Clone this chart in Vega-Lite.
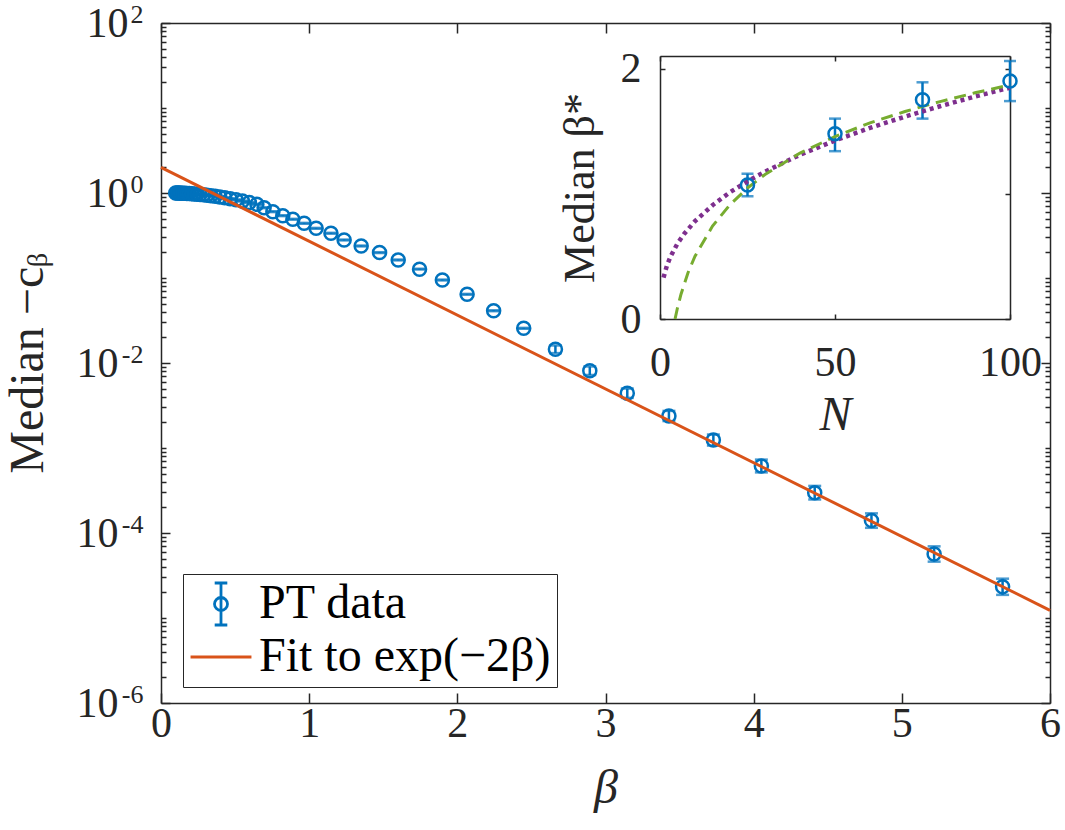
{
  "$schema": "https://vega.github.io/schema/vega-lite/v6.json",
  "width": 889,
  "height": 680,
  "autosize": {"type": "none"},
  "padding": {"left": 161, "top": 23, "right": 15, "bottom": 127},
  "background": "#ffffff",
  "config": {
    "view": {"stroke": null},
    "font": "Liberation Serif",
    "axis": {
      "grid": false,
      "domainColor": "#262626",
      "domainWidth": 1.5,
      "tickColor": "#262626",
      "tickWidth": 1.5,
      "labelFont": "Liberation Serif",
      "labelFontSize": 42,
      "labelColor": "#262626",
      "labelFlush": false,
      "labelOverlap": false,
      "labelBound": false,
      "titleFont": "Liberation Serif",
      "titleColor": "#262626",
      "titleFontWeight": "normal"
    }
  },
  "datasets": {
    "pt": [
      {"b": 0.0991, "v": 1.000, "lo": 0.9885, "hi": 1.0116},
      {"b": 0.1075, "v": 0.999, "lo": 0.9875, "hi": 1.0106},
      {"b": 0.1166, "v": 0.998, "lo": 0.9865, "hi": 1.0096},
      {"b": 0.1266, "v": 0.997, "lo": 0.9856, "hi": 1.0086},
      {"b": 0.1373, "v": 0.996, "lo": 0.9846, "hi": 1.0076},
      {"b": 0.1490, "v": 0.994, "lo": 0.9826, "hi": 1.0055},
      {"b": 0.1616, "v": 0.992, "lo": 0.9806, "hi": 1.0035},
      {"b": 0.1754, "v": 0.989, "lo": 0.9777, "hi": 1.0005},
      {"b": 0.1903, "v": 0.985, "lo": 0.9737, "hi": 0.9964},
      {"b": 0.2065, "v": 0.980, "lo": 0.9687, "hi": 0.9914},
      {"b": 0.2240, "v": 0.975, "lo": 0.9638, "hi": 0.9863},
      {"b": 0.2431, "v": 0.969, "lo": 0.9579, "hi": 0.9802},
      {"b": 0.2637, "v": 0.961, "lo": 0.9500, "hi": 0.9721},
      {"b": 0.2861, "v": 0.952, "lo": 0.9411, "hi": 0.9630},
      {"b": 0.3104, "v": 0.942, "lo": 0.9312, "hi": 0.9529},
      {"b": 0.3368, "v": 0.929, "lo": 0.9183, "hi": 0.9398},
      {"b": 0.3655, "v": 0.915, "lo": 0.9045, "hi": 0.9256},
      {"b": 0.3966, "v": 0.898, "lo": 0.8877, "hi": 0.9084},
      {"b": 0.4303, "v": 0.879, "lo": 0.8689, "hi": 0.8892},
      {"b": 0.4668, "v": 0.857, "lo": 0.8472, "hi": 0.8669},
      {"b": 0.5065, "v": 0.832, "lo": 0.8224, "hi": 0.8417},
      {"b": 0.5496, "v": 0.803, "lo": 0.7938, "hi": 0.8123},
      {"b": 0.5963, "v": 0.772, "lo": 0.7631, "hi": 0.7810},
      {"b": 0.647, "v": 0.736, "lo": 0.7276, "hi": 0.7445},
      {"b": 0.696, "v": 0.671, "lo": 0.6633, "hi": 0.6788},
      {"b": 0.755, "v": 0.603, "lo": 0.5961, "hi": 0.6100},
      {"b": 0.822, "v": 0.541, "lo": 0.5348, "hi": 0.5473},
      {"b": 0.890, "v": 0.491, "lo": 0.4854, "hi": 0.4967},
      {"b": 0.966, "v": 0.440, "lo": 0.4349, "hi": 0.4451},
      {"b": 1.047, "v": 0.384, "lo": 0.3796, "hi": 0.3885},
      {"b": 1.147, "v": 0.336, "lo": 0.3321, "hi": 0.3399},
      {"b": 1.236, "v": 0.280, "lo": 0.2768, "hi": 0.2832},
      {"b": 1.351, "v": 0.238, "lo": 0.2353, "hi": 0.2408},
      {"b": 1.475, "v": 0.199, "lo": 0.1967, "hi": 0.2013},
      {"b": 1.601, "v": 0.163, "lo": 0.1611, "hi": 0.1649},
      {"b": 1.745, "v": 0.127, "lo": 0.1255, "hi": 0.1285},
      {"b": 1.899, "v": 0.0947, "lo": 0.0936, "hi": 0.0958},
      {"b": 2.066, "v": 0.0643, "lo": 0.0636, "hi": 0.0650},
      {"b": 2.245, "v": 0.0412, "lo": 0.0407, "hi": 0.0417},
      {"b": 2.448, "v": 0.0256, "lo": 0.0253, "hi": 0.0259},
      {"b": 2.662, "v": 0.0145, "lo": 0.01307, "hi": 0.01608},
      {"b": 2.894, "v": 0.00811, "lo": 0.007228, "hi": 0.0091},
      {"b": 3.147, "v": 0.00441, "lo": 0.003885, "hi": 0.005005},
      {"b": 3.428, "v": 0.00238, "lo": 0.002073, "hi": 0.002732},
      {"b": 3.728, "v": 0.00124, "lo": 0.001068, "hi": 0.00144},
      {"b": 4.052, "v": 0.000614, "lo": 0.0005164, "hi": 0.00073},
      {"b": 4.412, "v": 0.000298, "lo": 0.0002479, "hi": 0.0003582},
      {"b": 4.795, "v": 0.00014, "lo": 0.0001151, "hi": 0.0001702},
      {"b": 5.218, "v": 0.0000566, "lo": 0.00004602, "hi": 0.00006962},
      {"b": 5.680, "v": 0.0000233, "lo": 0.00001871, "hi": 0.00002901}
    ],
    "fit": [
      {"b": 0, "v": 2.0},
      {"b": 6, "v": 0.0000123}
    ],
    "ins": [
      {"N": 25, "v": 1.07, "lo": 0.98, "hi": 1.16},
      {"N": 50, "v": 1.48, "lo": 1.34, "hi": 1.60},
      {"N": 75, "v": 1.75, "lo": 1.60, "hi": 1.89},
      {"N": 100, "v": 1.90, "lo": 1.74, "hi": 2.06}
    ],
    "pw": [
      {"N": 1, "y": 0.33}, {"N": 2, "y": 0.428}, {"N": 3, "y": 0.498}, {"N": 5, "y": 0.603},
      {"N": 7, "y": 0.683}, {"N": 10, "y": 0.781}, {"N": 15, "y": 0.908}, {"N": 20, "y": 1.012},
      {"N": 25, "y": 1.099}, {"N": 30, "y": 1.177}, {"N": 40, "y": 1.311}, {"N": 50, "y": 1.425},
      {"N": 60, "y": 1.526}, {"N": 70, "y": 1.616}, {"N": 80, "y": 1.699}, {"N": 90, "y": 1.776},
      {"N": 100, "y": 1.847}
    ],
    "lg": [
      {"N": 4.3, "y": 0}, {"N": 5, "y": 0.09}, {"N": 6, "y": 0.198}, {"N": 8, "y": 0.369},
      {"N": 10, "y": 0.501}, {"N": 15, "y": 0.742}, {"N": 20, "y": 0.913}, {"N": 25, "y": 1.046},
      {"N": 30, "y": 1.154}, {"N": 40, "y": 1.325}, {"N": 50, "y": 1.457}, {"N": 60, "y": 1.566},
      {"N": 70, "y": 1.657}, {"N": 80, "y": 1.736}, {"N": 90, "y": 1.806}, {"N": 100, "y": 1.869}
    ]
  },
  "resolve": {
    "scale": {"x": "independent", "y": "independent"},
    "axis": {"x": "independent", "y": "independent"}
  },
  "layer": [
    {
      "data": {"name": "pt"},
      "mark": {"type": "rule", "color": "#0072BD", "strokeWidth": 2.5},
      "encoding": {
        "x": {
          "field": "b", "type": "quantitative",
          "scale": {"domain": [0, 6], "nice": false, "zero": false},
          "axis": {
            "orient": "bottom", "values": [0, 1, 2, 3, 4, 5, 6], "tickSize": -10,
            "labelPadding": 10, "title": "β", "titleFontStyle": "italic",
            "titleFontSize": 48, "titlePadding": 20
          }
        },
        "y": {
          "field": "lo", "type": "quantitative",
          "scale": {"type": "log", "domain": [0.000001, 100], "nice": false},
          "axis": {
            "orient": "left",
            "values": [0.000001, 0.000002, 0.000003, 0.000004, 0.000005, 0.000006, 0.000007, 0.000008, 0.000009,
                       0.00001, 0.00002, 0.00003, 0.00004, 0.00005, 0.00006, 0.00007, 0.00008, 0.00009,
                       0.0001, 0.0002, 0.0003, 0.0004, 0.0005, 0.0006, 0.0007, 0.0008, 0.0009,
                       0.001, 0.002, 0.003, 0.004, 0.005, 0.006, 0.007, 0.008, 0.009,
                       0.01, 0.02, 0.03, 0.04, 0.05, 0.06, 0.07, 0.08, 0.09,
                       0.1, 0.2, 0.3, 0.4, 0.5, 0.6, 0.7, 0.8, 0.9,
                       1, 2, 3, 4, 5, 6, 7, 8, 9,
                       10, 20, 30, 40, 50, 60, 70, 80, 90, 100],
            "tickSize": {"condition": {"test": "indexof([100, 1, 0.01, 0.0001, 0.000001], datum.value) >= 0", "value": -9}, "value": -5},
            "labelExpr": "indexof([100, 1, 0.01, 0.0001, 0.000001], datum.value) >= 0 ? '10' : ''",
            "labelPadding": {"condition": {"test": "datum.value >= 1", "value": 42}, "value": 52},
            "title": "Median −cᵦ", "titleFontSize": 48, "titlePadding": 24
          }
        },
        "y2": {"field": "hi"}
      }
    },
    {
      "data": {"name": "pt"},
      "mark": {"type": "tick", "orient": "horizontal", "color": "#0072BD", "thickness": 2.5, "size": 13},
      "encoding": {
        "x": {
          "field": "b", "type": "quantitative",
          "scale": {"domain": [0, 6], "nice": false, "zero": false},
          "axis": {"orient": "top", "values": [0, 1, 2, 3, 4, 5, 6], "tickSize": -10, "labels": false, "title": null}
        },
        "y": {
          "field": "lo", "type": "quantitative",
          "scale": {"type": "log", "domain": [0.000001, 100], "nice": false},
          "axis": {
            "orient": "right", "labels": false, "title": null,
            "values": [0.000001, 0.000002, 0.000003, 0.000004, 0.000005, 0.000006, 0.000007, 0.000008, 0.000009,
                       0.00001, 0.00002, 0.00003, 0.00004, 0.00005, 0.00006, 0.00007, 0.00008, 0.00009,
                       0.0001, 0.0002, 0.0003, 0.0004, 0.0005, 0.0006, 0.0007, 0.0008, 0.0009,
                       0.001, 0.002, 0.003, 0.004, 0.005, 0.006, 0.007, 0.008, 0.009,
                       0.01, 0.02, 0.03, 0.04, 0.05, 0.06, 0.07, 0.08, 0.09,
                       0.1, 0.2, 0.3, 0.4, 0.5, 0.6, 0.7, 0.8, 0.9,
                       1, 2, 3, 4, 5, 6, 7, 8, 9,
                       10, 20, 30, 40, 50, 60, 70, 80, 90, 100],
            "tickSize": {"condition": {"test": "indexof([100, 1, 0.01, 0.0001, 0.000001], datum.value) >= 0", "value": -9}, "value": -5}
          }
        }
      }
    },
    {
      "data": {"name": "pt"},
      "mark": {"type": "tick", "orient": "horizontal", "color": "#0072BD", "thickness": 2.5, "size": 13},
      "encoding": {
        "x": {"field": "b", "type": "quantitative", "scale": {"domain": [0, 6], "nice": false, "zero": false}, "axis": null},
        "y": {
          "field": "hi", "type": "quantitative",
          "scale": {"type": "log", "domain": [0.000001, 100], "nice": false},
          "axis": {
            "orient": "left", "ticks": false, "tickSize": 0, "domain": false, "title": null,
            "values": [0.000001, 0.0001, 0.01, 1, 100],
            "labelExpr": "datum.value == 100 ? '2' : datum.value == 1 ? '0' : datum.value == 0.01 ? '-2' : datum.value == 0.0001 ? '-4' : '-6'",
            "labelFontSize": 26, "labelPadding": 18, "labelOffset": -9
          }
        }
      }
    },
    {
      "data": {"name": "pt"},
      "mark": {"type": "point", "shape": "circle", "filled": false, "size": 170, "strokeWidth": 2.5, "opacity": 1},
      "encoding": {
        "x": {"field": "b", "type": "quantitative", "scale": {"domain": [0, 6], "nice": false, "zero": false}, "axis": null},
        "y": {"field": "v", "type": "quantitative", "scale": {"type": "log", "domain": [0.000001, 100], "nice": false}, "axis": null},
        "color": {
          "datum": "PT data", "type": "nominal",
          "scale": {"domain": ["PT data", "Fit to exp(−2β)"], "range": ["#0072BD", "#D95319"]}
        }
      }
    },
    {
      "data": {"name": "fit"},
      "mark": {"type": "line", "strokeWidth": 3},
      "encoding": {
        "x": {"field": "b", "type": "quantitative", "scale": {"domain": [0, 6], "nice": false, "zero": false}, "axis": null},
        "y": {"field": "v", "type": "quantitative", "scale": {"type": "log", "domain": [0.000001, 100], "nice": false}, "axis": null},
        "color": {"datum": "Fit to exp(−2β)", "type": "nominal"}
      }
    },
    {
      "data": {"name": "fit"},
      "mark": {"type": "point", "filled": false, "opacity": 0, "strokeWidth": 2.5},
      "encoding": {
        "x": {"field": "b", "type": "quantitative", "scale": {"domain": [0, 6], "nice": false, "zero": false}, "axis": null},
        "y": {"field": "v", "type": "quantitative", "scale": {"type": "log", "domain": [0.000001, 100], "nice": false}, "axis": null},
        "color": {"datum": "PT data", "type": "nominal"},
        "shape": {
          "datum": "PT data", "type": "nominal",
          "scale": {
            "domain": ["PT data", "Fit to exp(−2β)"],
            "range": [
              "M0,-1L0,1M-0.3,-1L0.3,-1M-0.3,1L0.3,1M0.31,0A0.31,0.31 0 1,1 -0.31,0A0.31,0.31 0 1,1 0.31,0Z",
              "M-1.45,0L1.45,0"
            ]
          },
          "legend": {
            "orient": "none", "legendX": 22, "legendY": 551, "title": null,
            "labelFont": "Liberation Serif", "labelFontSize": 48, "labelColor": "#000000",
            "labelLimit": 500, "symbolSize": 1764, "symbolOffset": 8, "labelOffset": 14,
            "symbolOpacity": 1, "symbolStrokeWidth": 2.8, "symbolFillColor": "transparent",
            "padding": 6, "rowPadding": 2,
            "strokeColor": "#262626", "fillColor": "#ffffff"
          }
        }
      }
    },
    {
      "data": {"name": "ins"},
      "mark": {"type": "rule", "color": "#0072BD", "strokeWidth": 2.5},
      "encoding": {
        "x": {
          "field": "N", "type": "quantitative",
          "scale": {"domain": [0, 100], "range": [499, 849], "nice": false, "zero": false},
          "axis": {
            "orient": "bottom", "offset": -384, "values": [0, 50, 100], "tickSize": -5,
            "labelPadding": 28, "title": "N", "titleFontStyle": "italic", "titleFontSize": 48, "titlePadding": 8
          }
        },
        "y": {
          "field": "lo", "type": "quantitative",
          "scale": {"domain": [0, 2.1], "range": [296, 33], "nice": false, "zero": false},
          "axis": {
            "orient": "left", "offset": -499, "values": [0, 1, 2], "tickSize": -5, "format": "d",
            "labelPadding": 24, "title": "Median β*", "titleFontSize": 44, "titlePadding": 18
          }
        },
        "y2": {"field": "hi"}
      }
    },
    {
      "data": {"name": "ins"},
      "mark": {"type": "tick", "orient": "horizontal", "color": "#0072BD", "thickness": 2.5, "size": 12},
      "encoding": {
        "x": {
          "field": "N", "type": "quantitative",
          "scale": {"domain": [0, 100], "range": [499, 849], "nice": false, "zero": false},
          "axis": {"orient": "top", "offset": -33, "values": [0, 50, 100], "tickSize": -5, "labels": false, "title": null}
        },
        "y": {
          "field": "lo", "type": "quantitative",
          "scale": {"domain": [0, 2.1], "range": [296, 33], "nice": false, "zero": false},
          "axis": {"orient": "right", "offset": -40, "values": [0, 1, 2], "tickSize": -5, "labels": false, "title": null}
        }
      }
    },
    {
      "data": {"name": "ins"},
      "mark": {"type": "tick", "orient": "horizontal", "color": "#0072BD", "thickness": 2.5, "size": 12},
      "encoding": {
        "x": {"field": "N", "type": "quantitative", "scale": {"domain": [0, 100], "range": [499, 849], "nice": false, "zero": false}, "axis": null},
        "y": {"field": "hi", "type": "quantitative", "scale": {"domain": [0, 2.1], "range": [296, 33], "nice": false, "zero": false}, "axis": null}
      }
    },
    {
      "data": {"name": "pw"},
      "mark": {"type": "line", "color": "#7E2F8E", "strokeWidth": 4.5, "strokeDash": [4, 4]},
      "encoding": {
        "x": {"field": "N", "type": "quantitative", "scale": {"domain": [0, 100], "range": [499, 849], "nice": false, "zero": false}, "axis": null},
        "y": {"field": "y", "type": "quantitative", "scale": {"domain": [0, 2.1], "range": [296, 33], "nice": false, "zero": false}, "axis": null}
      }
    },
    {
      "data": {"name": "lg"},
      "mark": {"type": "line", "color": "#77AC30", "strokeWidth": 3, "strokeDash": [12, 7]},
      "encoding": {
        "x": {"field": "N", "type": "quantitative", "scale": {"domain": [0, 100], "range": [499, 849], "nice": false, "zero": false}, "axis": null},
        "y": {"field": "y", "type": "quantitative", "scale": {"domain": [0, 2.1], "range": [296, 33], "nice": false, "zero": false}, "axis": null}
      }
    },
    {
      "data": {"name": "ins"},
      "mark": {"type": "point", "shape": "circle", "filled": false, "size": 170, "strokeWidth": 2.5, "color": "#0072BD", "opacity": 1},
      "encoding": {
        "x": {"field": "N", "type": "quantitative", "scale": {"domain": [0, 100], "range": [499, 849], "nice": false, "zero": false}, "axis": null},
        "y": {"field": "v", "type": "quantitative", "scale": {"domain": [0, 2.1], "range": [296, 33], "nice": false, "zero": false}, "axis": null}
      }
    }
  ]
}
